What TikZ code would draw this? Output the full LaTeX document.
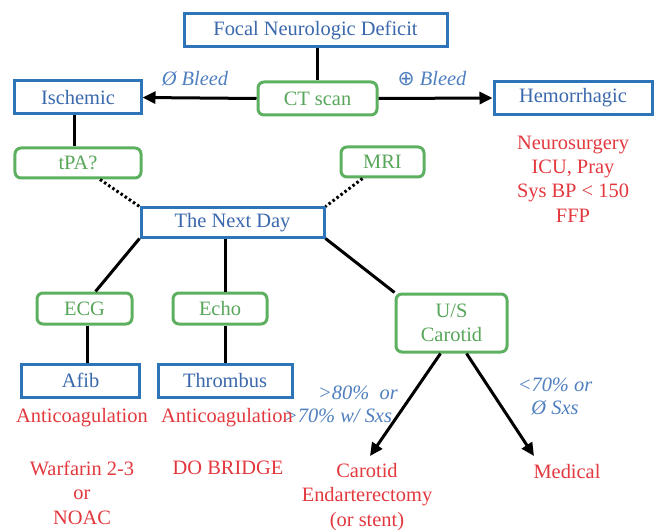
\documentclass[tikz,border=0pt]{standalone}
\usepackage{fontspec}
\setmainfont{Liberation Serif}
\newfontfamily\symfont{DejaVu Sans}
\usetikzlibrary{arrows.meta}
\definecolor{bdr}{HTML}{2E74B8}
\definecolor{btxt}{HTML}{3A68AC}
\definecolor{grn}{HTML}{5DB060}
\definecolor{gtxt}{HTML}{58A65A}
\definecolor{warn}{HTML}{E2383E}
\definecolor{lbl}{HTML}{4F7FBF}
\tikzset{
  >={Triangle[length=13bp,width=12bp]},
  txt/.style={font=\fontsize{20.5}{24.5}\selectfont},
  bbox/.style={txt,draw=bdr,line width=3bp,text=btxt,inner sep=0pt,fill=white},
  gbox/.style={bbox,draw=grn,text=gtxt,rounded corners=6bp},
  note/.style={txt,text=warn,align=center,inner sep=0pt},
  lab/.style={font=\fontsize{20.5}{23}\selectfont\itshape,text=lbl,align=center,inner sep=0pt},
  link/.style={line width=3bp},
  arr/.style={link,->},
  dots/.style={line width=3bp,dash pattern=on 2.5bp off 2.5bp},
}
\begin{document}
\begin{tikzpicture}[x=1bp,y=-1bp]
\useasboundingbox (0,0) rectangle (655,530);
% boxes
\node[bbox,minimum width=263bp,minimum height=33bp] (focal) at (315.5,30.5) {Focal Neurologic Deficit};
\node[gbox,minimum width=119bp,minimum height=33bp] (ct) at (317.5,98.5) {CT scan};
\node[bbox,minimum width=126bp,minimum height=33bp] (isch) at (78,97.5) {Ischemic};
\node[bbox,minimum width=158bp,minimum height=33bp] (hemo) at (573,98) {Hemorrhagic};
\node[gbox,minimum width=126bp,minimum height=30bp] (tpa) at (78,163) {tPA?};
\node[gbox,minimum width=83bp,minimum height=30bp] (mri) at (382.5,162) {MRI};
\node[bbox,minimum width=183bp,minimum height=29bp] (next) at (232.5,222.5) {The Next Day};
\node[gbox,minimum width=95bp,minimum height=31bp] (ecg) at (84.5,308.5) {ECG};
\node[gbox,minimum width=94bp,minimum height=31bp] (echo) at (220,308.5) {Echo};
\node[gbox,minimum width=111bp,minimum height=58bp,align=center] (us) at (451.5,323) {U/S\\Carotid};
\node[bbox,minimum width=117bp,minimum height=33bp] (afib) at (80.5,380.5) {Afib};
\node[bbox,minimum width=134bp,minimum height=33bp] (thromb) at (225,380.5) {Thrombus};
\coordinate (ceatip) at (370,456);
\coordinate (medtip) at (534,456);
% connectors
\draw[link] (ct.north) -- (ct.north |- focal.south);
\draw[arr] (ct.west) -- (isch.east);
\draw[arr] (ct.east) -- (hemo.west);
\draw[link] ([xshift=-4bp]isch.south) -- ([xshift=-4bp]tpa.north);
\draw[dots] ([xshift=22bp]tpa.south) -- (next.north west);
\draw[dots] ([xshift=-20bp]mri.south) -- (next.north east);
\draw[link] (next.south west) -- ([xshift=11bp]ecg.north);
\draw[link] (thromb.north |- next.south) -- (thromb.north |- echo.north);
\draw[link] (next.south east) -- (us.north west);
\draw[link] ([xshift=2.5bp]ecg.south) -- ([xshift=2.5bp]ecg.south |- afib.north);
\draw[link] (thromb.north |- echo.south) -- (thromb.north);
\draw[arr] ([xshift=-11bp]us.south) -- (ceatip);
\draw[arr] ([xshift=15bp]us.south) -- (medtip);
% labels
\node[lab] (nobleed) at (195,79) {Ø Bleed};
\node[lab] (bleed) at (432,79) {{\symfont ⊕} Bleed};
\node[lab] (hi1) at (358,393) {>80\%\ \ or};
\node[lab] (hi2) at (338,416) {>70\% w/ Sxs};
\node[lab] (lo) at (555,396.5) {<70\% or\\Ø Sxs};
% red notes
\node[note] (neuro) at (573,179) {Neurosurgery\\ICU, Pray\\Sys BP < 150\\FFP};
\node[note] (anti1) at (82,418) {Anticoagulation};
\node[note] (warf) at (82,492.5) {Warfarin 2-3\\or\\NOAC};
\node[note] (anti2) at (227,418) {Anticoagulation};
\node[note] (bridge) at (228,468) {DO BRIDGE};
\node[note] (cea) at (367,497) {Carotid\\Endarterectomy\\(or stent)};
\node[note] (med) at (567,472) {Medical};
\end{tikzpicture}
\end{document}
